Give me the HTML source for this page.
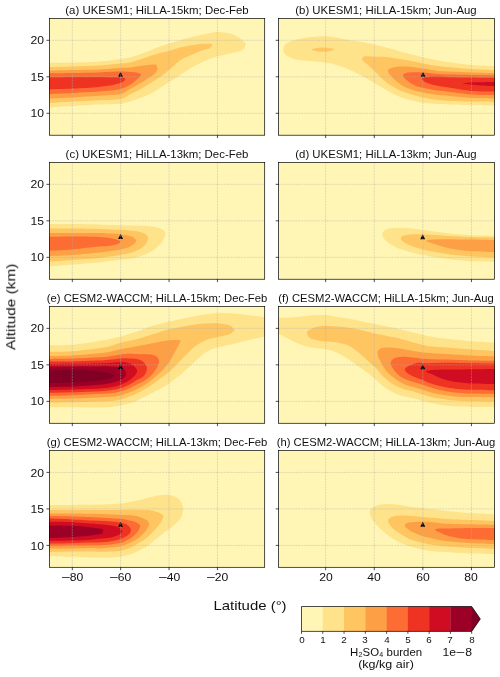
<!DOCTYPE html>
<html><head><meta charset="utf-8"><title>H2SO4 burden</title>
<style>
html,body{margin:0;padding:0;background:#fff;}
#fig{position:relative;width:500px;height:677px;overflow:hidden;background:#fff;font-family:"Liberation Sans",sans-serif;color:#111;}
#fig svg{position:absolute;left:0;top:0;}
.t{position:absolute;white-space:nowrap;line-height:1;will-change:transform;}
.sub{font-size:0.62em;position:relative;top:0.2em;margin:0 0.03em;}
.mn{display:inline-block;transform:scaleX(1.3);margin:0 0.9px;}
.yl{left:-89.28px;top:300.15px;width:200px;height:13.5px;text-align:center;transform-origin:50% 50%;transform:rotate(-90deg) scaleX(1.14);}
</style></head><body>
<div id="fig">
<svg width="500" height="677" viewBox="0 0 500 677">
<defs><clipPath id="ca"><rect x="49.35" y="18.4" width="215.35" height="116.79999999999998"/></clipPath><clipPath id="cb"><rect x="278.6" y="18.4" width="215.84999999999997" height="116.79999999999998"/></clipPath><clipPath id="cc"><rect x="49.35" y="162.43" width="215.35" height="116.80000000000001"/></clipPath><clipPath id="cd"><rect x="278.6" y="162.43" width="215.84999999999997" height="116.80000000000001"/></clipPath><clipPath id="ce"><rect x="49.35" y="306.47" width="215.35" height="116.79999999999995"/></clipPath><clipPath id="cf"><rect x="278.6" y="306.47" width="215.84999999999997" height="116.79999999999995"/></clipPath><clipPath id="cg"><rect x="49.35" y="450.5" width="215.35" height="116.79999999999995"/></clipPath><clipPath id="ch"><rect x="278.6" y="450.5" width="215.84999999999997" height="116.79999999999995"/></clipPath></defs>
<rect x="49.35" y="18.4" width="215.35" height="116.79999999999998" fill="#fff6b6"/>
<g clip-path="url(#ca)">
<path d="M40.00,63.00C40.80,59.03 44.95,63.05 49.00,63.00C54.50,62.93 64.67,62.83 73.00,62.60C81.33,62.37 91.10,62.20 99.00,61.60C106.90,61.00 115.23,59.70 120.40,59.00C124.74,58.41 126.73,58.18 130.00,57.40C133.27,56.62 136.67,55.47 140.00,54.30C143.33,53.13 146.67,51.68 150.00,50.40C153.33,49.12 156.83,47.73 160.00,46.60C163.17,45.47 165.67,44.63 169.00,43.60C172.33,42.57 176.50,41.40 180.00,40.40C183.50,39.40 186.67,38.50 190.00,37.60C193.33,36.70 196.67,35.77 200.00,35.00C203.33,34.23 207.10,33.50 210.00,33.00C212.90,32.50 214.73,32.05 217.40,32.00C220.07,31.95 222.97,32.13 226.00,32.70C229.03,33.27 232.80,34.12 235.60,35.40C238.40,36.68 241.10,39.00 242.80,40.40C244.38,41.70 245.80,43.80 245.80,43.80C245.80,43.80 244.40,48.20 244.40,48.20C244.40,48.20 242.44,50.18 240.40,51.00C238.33,51.83 235.80,52.31 232.00,53.20C228.17,54.10 221.40,55.37 217.40,56.40C213.40,57.43 210.97,58.20 208.00,59.40C205.03,60.60 202.60,62.07 199.60,63.60C196.60,65.13 193.27,66.63 190.00,68.60C186.73,70.57 183.50,73.17 180.00,75.40C176.50,77.63 172.33,79.90 169.00,82.00C165.67,84.10 163.17,86.00 160.00,88.00C156.83,90.00 153.33,92.33 150.00,94.00C146.67,95.67 143.33,96.75 140.00,98.00C136.67,99.25 133.27,100.53 130.00,101.50C126.73,102.47 124.82,103.36 120.40,103.80C115.23,104.32 106.90,104.23 99.00,104.60C91.10,104.97 81.33,105.53 73.00,106.00C64.67,106.47 54.50,107.17 49.00,107.40C44.95,107.57 40.80,111.37 40.00,107.40C38.50,100.00 38.50,70.40 40.00,63.00Z" fill="#fee38b"/>
<path d="M40.00,67.00C40.98,63.07 44.95,67.07 49.00,67.00C54.50,66.90 64.67,66.63 73.00,66.40C81.33,66.17 91.10,66.07 99.00,65.60C106.90,65.13 115.23,64.12 120.40,63.60C124.73,63.17 126.73,63.20 130.00,62.50C133.27,61.80 136.67,60.48 140.00,59.40C143.33,58.32 146.67,57.07 150.00,56.00C153.33,54.93 156.83,53.83 160.00,53.00C163.17,52.17 165.67,51.90 169.00,51.00C172.33,50.10 176.50,48.50 180.00,47.60C183.50,46.70 186.73,46.20 190.00,45.60C193.27,45.00 196.60,44.32 199.60,44.00C202.60,43.68 205.80,43.68 208.00,43.70C210.17,43.72 212.80,44.10 212.80,44.10C212.80,44.10 209.80,48.60 209.80,48.60C209.80,48.60 204.50,49.60 202.00,50.40C199.50,51.20 196.80,52.53 194.80,53.40C192.80,54.27 192.15,54.58 190.00,55.60C187.53,56.77 183.50,58.00 180.00,60.40C176.50,62.80 172.33,67.23 169.00,70.00C165.67,72.77 163.17,74.75 160.00,77.00C156.83,79.25 153.33,81.42 150.00,83.50C146.67,85.58 143.33,87.67 140.00,89.50C136.67,91.33 133.27,92.92 130.00,94.50C126.73,96.08 125.09,98.14 120.40,99.00C115.23,99.95 106.90,99.77 99.00,100.20C91.10,100.63 81.33,101.13 73.00,101.60C64.67,102.07 54.50,102.77 49.00,103.00C44.95,103.17 40.98,106.93 40.00,103.00C38.50,97.00 38.50,73.00 40.00,67.00Z" fill="#fec561"/>
<path d="M40.00,70.60C41.25,66.75 44.95,70.67 49.00,70.60C54.50,70.50 64.67,70.20 73.00,70.00C81.33,69.80 91.10,69.73 99.00,69.40C106.90,69.07 115.23,68.32 120.40,68.00C124.72,67.74 126.73,67.83 130.00,67.50C133.27,67.17 137.67,66.32 140.00,66.00C141.79,65.76 142.20,65.81 144.00,65.60C146.00,65.37 149.93,64.78 152.00,64.60C153.97,64.42 156.40,64.50 156.40,64.50C156.40,64.50 157.60,69.20 157.60,69.20C157.60,69.20 156.17,72.37 154.40,74.00C152.63,75.63 149.40,77.42 147.00,79.00C144.60,80.58 142.83,81.83 140.00,83.50C137.17,85.17 133.27,87.25 130.00,89.00C126.73,90.75 125.16,92.96 120.40,94.00C115.23,95.13 106.90,95.23 99.00,95.80C91.10,96.37 81.33,96.97 73.00,97.40C64.67,97.83 54.50,98.23 49.00,98.40C44.95,98.52 41.25,102.25 40.00,98.40C38.50,93.77 38.50,75.23 40.00,70.60Z" fill="#fd9f44"/>
<path d="M40.00,73.40C41.50,69.97 44.95,73.45 49.00,73.40C54.50,73.33 64.67,73.17 73.00,73.00C81.33,72.83 91.10,72.63 99.00,72.40C106.90,72.17 115.23,71.67 120.40,71.60C124.72,71.54 127.40,71.87 130.00,72.00C132.60,72.13 134.27,72.15 136.00,72.40C137.73,72.65 140.40,73.50 140.40,73.50C140.40,73.50 141.00,75.00 141.00,75.00C141.00,75.00 140.27,76.33 139.40,77.20C138.40,78.20 136.57,79.73 135.00,81.00C133.43,82.27 132.43,83.47 130.00,84.80C127.57,86.13 125.01,87.99 120.40,89.00C115.23,90.13 106.90,90.93 99.00,91.60C91.10,92.27 81.33,92.60 73.00,93.00C64.67,93.40 54.50,93.83 49.00,94.00C44.95,94.12 41.50,97.43 40.00,94.00C38.50,90.57 38.50,76.83 40.00,73.40Z" fill="#fc6c33"/>
<path d="M40.00,77.40C41.50,75.40 44.95,77.45 49.00,77.40C54.50,77.33 64.67,77.07 73.00,77.00C81.33,76.93 92.00,76.95 99.00,77.00C106.00,77.05 111.03,77.20 115.00,77.30C118.51,77.39 121.08,77.30 122.80,77.60C124.09,77.83 125.30,79.10 125.30,79.10C125.30,79.10 124.80,80.96 123.60,81.60C121.88,82.52 119.00,83.72 115.00,84.60C110.90,85.50 106.00,86.33 99.00,87.00C92.00,87.67 81.33,88.20 73.00,88.60C64.67,89.00 54.50,89.27 49.00,89.40C44.95,89.50 41.50,91.40 40.00,89.40C38.50,87.40 38.50,79.40 40.00,77.40Z" fill="#ef3323"/>
<path d="M120.50,71.90L122.95,76.85H118.05Z" fill="#000"/>
<path d="M72.30,135.2V18.4M120.68,135.2V18.4M169.06,135.2V18.4M217.44,135.2V18.4M49.35,113.30H264.7M49.35,76.80H264.7M49.35,40.30H264.7" stroke="#b0b0b0" stroke-opacity="0.8" stroke-width="0.55" stroke-dasharray="1.97 0.85" fill="none"/>
</g>
<rect x="49.35" y="18.4" width="215.35" height="116.79999999999998" fill="none" stroke="#000" stroke-width="0.7"/>
<path d="M72.30,135.2v2.9M120.68,135.2v2.9M169.06,135.2v2.9M217.44,135.2v2.9M49.35,113.30h-2.9M49.35,76.80h-2.9M49.35,40.30h-2.9" stroke="#000" stroke-width="0.7" fill="none"/>
<rect x="278.6" y="18.4" width="215.84999999999997" height="116.79999999999998" fill="#fff6b6"/>
<g clip-path="url(#cb)">
<path d="M505.00,66.00C503.68,61.23 498.95,66.15 494.00,66.00C488.43,65.83 478.93,65.62 471.60,65.00C464.27,64.38 455.60,63.07 450.00,62.30C444.58,61.56 442.50,61.25 438.00,60.40C433.50,59.55 428.33,58.43 423.00,57.20C417.67,55.97 411.50,54.43 406.00,53.00C400.50,51.57 395.27,50.00 390.00,48.60C384.73,47.20 379.07,45.70 374.40,44.60C369.73,43.50 366.23,42.77 362.00,42.00C357.77,41.23 352.83,40.63 349.00,40.00C345.17,39.37 341.67,38.70 339.00,38.20C336.33,37.70 335.20,37.33 333.00,37.00C330.80,36.67 328.40,36.30 325.80,36.20C323.20,36.10 320.60,36.17 317.40,36.40C314.20,36.63 310.00,37.10 306.60,37.60C303.20,38.10 299.80,38.70 297.00,39.40C294.20,40.10 291.80,40.90 289.80,41.80C287.80,42.70 286.10,43.50 285.00,44.80C283.90,46.10 283.30,48.20 283.20,49.60C283.10,51.00 283.50,52.00 284.40,53.20C285.30,54.40 286.90,55.80 288.60,56.80C290.30,57.80 292.20,58.57 294.60,59.20C297.00,59.83 299.60,60.20 303.00,60.60C306.40,61.00 311.20,61.23 315.00,61.60C318.80,61.97 322.80,62.40 325.80,62.80C328.80,63.20 330.80,63.50 333.00,64.00C335.20,64.50 336.33,64.88 339.00,65.80C341.67,66.72 345.17,67.80 349.00,69.50C352.83,71.20 357.77,73.75 362.00,76.00C366.23,78.25 370.40,80.67 374.40,83.00C378.40,85.33 382.07,87.83 386.00,90.00C389.93,92.17 394.00,94.33 398.00,96.00C402.00,97.67 405.83,98.87 410.00,100.00C414.17,101.13 418.33,102.13 423.00,102.80C427.67,103.47 433.50,103.73 438.00,104.00C442.50,104.27 444.60,104.24 450.00,104.40C455.60,104.57 464.27,104.80 471.60,105.00C478.93,105.20 488.43,105.50 494.00,105.60C498.95,105.69 503.68,110.37 505.00,105.60C506.83,99.00 506.83,72.60 505.00,66.00Z" fill="#fee38b"/>
<path d="M310.80,49.60C310.80,49.60 314.10,48.57 316.00,48.20C317.90,47.83 320.03,47.43 322.20,47.40C324.37,47.37 326.83,47.67 329.00,48.00C331.17,48.33 335.20,49.40 335.20,49.40C335.20,49.40 330.97,50.80 329.00,51.20C327.03,51.60 325.48,51.80 323.40,51.80C321.32,51.80 318.60,51.57 316.50,51.20C314.40,50.83 310.80,49.60 310.80,49.60Z" fill="#fec561"/>
<path d="M505.00,70.00C503.39,65.32 498.95,70.15 494.00,70.00C488.43,69.83 478.93,69.47 471.60,69.00C464.27,68.53 455.60,67.70 450.00,67.20C444.59,66.72 442.50,66.63 438.00,66.00C433.50,65.37 428.33,64.40 423.00,63.40C417.67,62.40 411.50,61.00 406.00,60.00C400.50,59.00 395.27,57.98 390.00,57.40C384.73,56.82 378.73,56.70 374.40,56.50C370.07,56.30 364.00,56.20 364.00,56.20C364.00,56.20 361.60,59.40 361.60,59.40C361.60,59.40 365.07,62.27 367.20,64.20C369.33,66.13 371.27,68.03 374.40,71.00C377.53,73.97 382.07,78.93 386.00,82.00C389.93,85.07 394.00,87.40 398.00,89.40C402.00,91.40 405.83,92.67 410.00,94.00C414.17,95.33 418.33,96.40 423.00,97.40C427.67,98.40 433.50,99.40 438.00,100.00C442.50,100.60 444.59,100.74 450.00,101.00C455.60,101.27 464.27,101.43 471.60,101.60C478.93,101.77 488.43,101.93 494.00,102.00C498.95,102.06 503.39,106.68 505.00,102.00C506.83,96.67 506.83,75.33 505.00,70.00Z" fill="#fec561"/>
<path d="M505.00,73.00C503.17,68.77 498.95,73.09 494.00,73.00C488.43,72.90 478.93,72.65 471.60,72.40C464.27,72.15 455.60,71.73 450.00,71.50C444.60,71.28 442.50,71.48 438.00,71.00C433.50,70.52 428.33,69.33 423.00,68.60C417.67,67.87 411.00,66.77 406.00,66.60C401.00,66.43 396.00,66.87 393.00,67.60C390.36,68.25 388.17,69.43 388.00,71.00C387.83,72.57 390.00,74.83 392.00,77.00C394.00,79.17 397.00,82.00 400.00,84.00C403.00,86.00 406.17,87.57 410.00,89.00C413.83,90.43 418.33,91.60 423.00,92.60C427.67,93.60 433.50,94.43 438.00,95.00C442.50,95.57 444.60,95.52 450.00,96.00C455.60,96.50 464.27,97.60 471.60,98.00C478.93,98.40 488.43,98.33 494.00,98.40C498.95,98.46 503.17,102.63 505.00,98.40C506.83,94.17 506.83,77.23 505.00,73.00Z" fill="#fd9f44"/>
<path d="M505.00,75.40C503.17,72.13 498.95,75.46 494.00,75.40C488.43,75.33 478.93,75.13 471.60,75.00C464.27,74.87 455.60,74.77 450.00,74.60C444.60,74.44 442.50,74.35 438.00,74.00C433.50,73.65 428.00,72.73 423.00,72.50C418.00,72.27 411.33,72.15 408.00,72.60C405.49,72.94 403.33,74.07 403.00,75.20C402.67,76.33 404.27,77.85 406.00,79.40C407.83,81.03 411.17,83.60 414.00,85.00C416.83,86.40 419.00,86.87 423.00,87.80C427.00,88.73 433.50,89.90 438.00,90.60C442.50,91.30 444.60,91.39 450.00,92.00C455.60,92.63 464.27,93.90 471.60,94.40C478.93,94.90 488.43,94.90 494.00,95.00C498.95,95.09 503.17,98.27 505.00,95.00C506.83,91.73 506.83,78.67 505.00,75.40Z" fill="#fc6c33"/>
<path d="M505.00,78.00C503.17,75.77 498.95,78.06 494.00,78.00C488.43,77.93 478.93,77.73 471.60,77.60C464.27,77.47 455.60,77.37 450.00,77.20C444.60,77.04 441.83,76.63 438.00,76.60C434.17,76.57 429.70,76.68 427.00,77.00C424.58,77.28 422.13,77.67 421.80,78.50C421.47,79.33 423.12,81.00 425.00,82.00C427.03,83.08 429.84,84.04 434.00,85.00C438.17,85.97 443.73,86.80 450.00,87.80C456.27,88.80 464.27,90.40 471.60,91.00C478.93,91.60 488.43,91.33 494.00,91.40C498.95,91.46 503.17,93.63 505.00,91.40C506.83,89.17 506.83,80.23 505.00,78.00Z" fill="#ef3323"/>
<path d="M505.00,82.00C503.17,81.33 498.17,81.97 494.00,82.00C489.83,82.03 483.73,82.13 480.00,82.20C476.27,82.27 474.43,82.20 471.60,82.40C468.77,82.60 463.00,83.03 463.00,83.40C463.00,83.77 468.77,84.27 471.60,84.60C474.43,84.93 476.27,85.17 480.00,85.40C483.73,85.63 489.83,85.90 494.00,86.00C498.17,86.10 503.17,86.67 505.00,86.00C506.69,85.38 506.69,82.62 505.00,82.00Z" fill="#cf0c21"/>
<path d="M423.00,71.90L425.45,76.85H420.55Z" fill="#000"/>
<path d="M325.65,135.2V18.4M374.25,135.2V18.4M422.85,135.2V18.4M471.45,135.2V18.4M278.6,113.30H494.45M278.6,76.80H494.45M278.6,40.30H494.45" stroke="#b0b0b0" stroke-opacity="0.8" stroke-width="0.55" stroke-dasharray="1.97 0.85" fill="none"/>
</g>
<rect x="278.6" y="18.4" width="215.84999999999997" height="116.79999999999998" fill="none" stroke="#000" stroke-width="0.7"/>
<path d="M325.65,135.2v2.9M374.25,135.2v2.9M422.85,135.2v2.9M471.45,135.2v2.9M278.6,113.30h-2.9M278.6,76.80h-2.9M278.6,40.30h-2.9" stroke="#000" stroke-width="0.7" fill="none"/>
<rect x="49.35" y="162.43" width="215.35" height="116.80000000000001" fill="#fff6b6"/>
<g clip-path="url(#cc)">
<path d="M40.00,224.00C40.84,220.04 44.95,224.00 49.00,224.00C54.43,224.00 64.27,223.93 72.60,224.00C80.93,224.07 92.77,224.23 99.00,224.40C103.96,224.53 106.40,224.87 110.00,225.00C113.60,225.13 117.27,225.10 120.60,225.20C123.93,225.30 125.77,225.47 130.00,225.60C134.23,225.73 141.67,225.73 146.00,226.00C150.33,226.27 153.33,226.67 156.00,227.20C158.67,227.73 160.50,228.40 162.00,229.20C163.50,230.00 164.45,231.12 165.00,232.00C165.55,232.88 165.47,233.42 165.30,234.50C165.13,235.58 164.82,236.92 164.00,238.50C163.18,240.08 162.00,242.18 160.40,244.00C158.80,245.82 156.80,247.73 154.40,249.40C152.00,251.07 149.40,252.53 146.00,254.00C142.60,255.47 138.23,257.23 134.00,258.20C129.77,259.17 124.60,259.33 120.60,259.80C116.60,260.27 113.60,260.57 110.00,261.00C106.40,261.43 103.97,261.92 99.00,262.40C92.77,263.00 80.93,263.90 72.60,264.60C64.27,265.30 54.43,266.27 49.00,266.60C44.96,266.85 40.84,270.56 40.00,266.60C38.50,259.50 38.50,231.10 40.00,224.00Z" fill="#fee38b"/>
<path d="M40.00,228.60C41.07,224.69 44.95,228.60 49.00,228.60C54.43,228.60 64.27,228.53 72.60,228.60C80.93,228.67 92.77,228.87 99.00,229.00C103.95,229.11 106.40,229.27 110.00,229.40C113.60,229.53 117.27,229.60 120.60,229.80C123.93,230.00 126.77,230.23 130.00,230.60C133.23,230.97 137.33,231.33 140.00,232.00C142.67,232.67 144.67,233.60 146.00,234.60C147.33,235.60 147.83,236.77 148.00,238.00C148.17,239.23 147.83,240.50 147.00,242.00C146.17,243.50 144.83,245.50 143.00,247.00C141.17,248.50 138.50,249.90 136.00,251.00C133.50,252.10 130.57,252.93 128.00,253.60C125.43,254.27 123.60,254.50 120.60,255.00C117.60,255.50 113.60,256.10 110.00,256.60C106.40,257.10 103.97,257.55 99.00,258.00C92.77,258.57 80.93,259.40 72.60,260.00C64.27,260.60 54.43,261.33 49.00,261.60C44.95,261.80 41.07,265.51 40.00,261.60C38.50,256.10 38.50,234.10 40.00,228.60Z" fill="#fec561"/>
<path d="M40.00,233.00C41.48,229.23 44.95,233.00 49.00,233.00C54.43,233.00 64.27,233.00 72.60,233.00C80.93,233.00 92.77,232.90 99.00,233.00C103.96,233.08 106.40,233.37 110.00,233.60C113.60,233.83 117.60,234.07 120.60,234.40C123.60,234.73 125.77,235.00 128.00,235.60C130.23,236.20 132.67,237.13 134.00,238.00C135.30,238.84 136.00,239.80 136.00,240.80C136.00,241.80 135.31,242.92 134.00,244.00C132.67,245.10 130.23,246.50 128.00,247.40C125.77,248.30 123.60,248.80 120.60,249.40C117.60,250.00 113.60,250.47 110.00,251.00C106.40,251.53 103.97,252.07 99.00,252.60C92.77,253.27 80.93,254.43 72.60,255.00C64.27,255.57 54.43,255.83 49.00,256.00C44.95,256.12 41.48,259.77 40.00,256.00C38.50,252.17 38.50,236.83 40.00,233.00Z" fill="#fd9f44"/>
<path d="M40.00,237.00C41.50,234.73 44.95,237.05 49.00,237.00C54.43,236.93 64.27,236.60 72.60,236.60C80.93,236.60 92.77,236.77 99.00,237.00C103.97,237.19 106.97,237.53 110.00,238.00C113.03,238.47 115.50,239.28 117.20,239.80C118.61,240.23 120.20,241.10 120.20,241.10C120.20,241.10 119.88,243.21 118.60,243.80C116.90,244.58 113.27,245.33 110.00,245.80C106.73,246.27 103.94,246.12 99.00,246.60C92.77,247.20 80.93,248.73 72.60,249.40C64.27,250.07 54.43,250.40 49.00,250.60C44.95,250.75 41.50,252.87 40.00,250.60C38.50,248.33 38.50,239.27 40.00,237.00Z" fill="#fc6c33"/>
<path d="M120.60,234.10L123.05,239.05H118.15Z" fill="#000"/>
<path d="M72.30,279.23V162.43M120.68,279.23V162.43M169.06,279.23V162.43M217.44,279.23V162.43M49.35,257.33H264.7M49.35,220.83H264.7M49.35,184.33H264.7" stroke="#b0b0b0" stroke-opacity="0.8" stroke-width="0.55" stroke-dasharray="1.97 0.85" fill="none"/>
</g>
<rect x="49.35" y="162.43" width="215.35" height="116.80000000000001" fill="none" stroke="#000" stroke-width="0.7"/>
<path d="M72.30,279.23v2.9M120.68,279.23v2.9M169.06,279.23v2.9M217.44,279.23v2.9M49.35,257.33h-2.9M49.35,220.83h-2.9M49.35,184.33h-2.9" stroke="#000" stroke-width="0.7" fill="none"/>
<rect x="278.6" y="162.43" width="215.84999999999997" height="116.80000000000001" fill="#fff6b6"/>
<g clip-path="url(#cd)">
<path d="M505.00,235.70C503.17,231.33 498.95,235.77 494.00,235.70C488.42,235.62 477.17,235.38 471.50,235.20C466.32,235.03 463.92,234.93 460.00,234.60C456.08,234.27 452.00,233.68 448.00,233.20C444.00,232.72 440.22,232.23 436.00,231.70C431.78,231.17 427.23,230.57 422.70,230.00C418.17,229.43 413.25,228.63 408.80,228.30C404.35,227.97 399.47,227.92 396.00,228.00C392.53,228.08 390.00,228.30 388.00,228.80C386.01,229.30 384.93,230.07 384.00,231.00C383.07,231.93 382.40,233.17 382.40,234.40C382.40,235.63 383.07,237.07 384.00,238.40C384.93,239.73 386.00,240.93 388.00,242.40C390.00,243.87 392.53,245.65 396.00,247.20C399.47,248.75 404.35,250.42 408.80,251.70C413.25,252.98 418.17,253.97 422.70,254.90C427.23,255.83 431.78,256.62 436.00,257.30C440.22,257.98 444.00,258.50 448.00,259.00C452.00,259.50 456.08,259.92 460.00,260.30C463.92,260.68 466.31,261.06 471.50,261.30C477.17,261.57 488.42,261.80 494.00,261.90C498.95,261.99 503.17,266.27 505.00,261.90C506.83,257.53 506.83,240.07 505.00,235.70Z" fill="#fee38b"/>
<path d="M505.00,237.60C503.17,234.27 498.95,237.67 494.00,237.60C488.42,237.52 477.17,237.27 471.50,237.10C466.32,236.95 463.92,236.78 460.00,236.60C456.08,236.42 452.00,236.28 448.00,236.00C444.00,235.72 440.22,235.17 436.00,234.90C431.78,234.63 426.97,234.48 422.70,234.40C418.43,234.32 413.65,234.18 410.40,234.40C407.15,234.62 404.80,235.03 403.20,235.70C401.70,236.33 400.80,237.42 400.80,238.40C400.80,239.38 401.76,240.52 403.20,241.60C404.80,242.80 407.15,244.27 410.40,245.60C413.65,246.93 418.43,248.48 422.70,249.60C426.97,250.72 431.78,251.53 436.00,252.30C440.22,253.07 444.00,253.67 448.00,254.20C452.00,254.73 456.08,255.12 460.00,255.50C463.92,255.88 466.32,256.18 471.50,256.50C477.17,256.85 488.42,257.42 494.00,257.60C498.95,257.76 503.17,260.93 505.00,257.60C506.83,254.27 506.83,240.93 505.00,237.60Z" fill="#fec561"/>
<path d="M505.00,240.00C503.17,238.00 498.95,240.07 494.00,240.00C488.42,239.92 477.17,239.60 471.50,239.50C466.33,239.41 464.58,239.45 460.00,239.40C455.42,239.35 448.53,239.18 444.00,239.20C439.47,239.22 435.75,239.23 432.80,239.50C429.85,239.77 426.30,240.13 426.30,240.80C426.30,241.47 429.85,242.48 432.80,243.50C435.75,244.52 440.80,246.02 444.00,246.90C447.20,247.78 449.33,248.28 452.00,248.80C454.67,249.32 456.75,249.60 460.00,250.00C463.25,250.40 466.31,250.89 471.50,251.20C477.17,251.53 488.42,251.87 494.00,252.00C498.95,252.12 503.17,254.00 505.00,252.00C506.83,250.00 506.83,242.00 505.00,240.00Z" fill="#fd9f44"/>
<path d="M422.70,234.30L425.15,239.25H420.25Z" fill="#000"/>
<path d="M325.65,279.23V162.43M374.25,279.23V162.43M422.85,279.23V162.43M471.45,279.23V162.43M278.6,257.33H494.45M278.6,220.83H494.45M278.6,184.33H494.45" stroke="#b0b0b0" stroke-opacity="0.8" stroke-width="0.55" stroke-dasharray="1.97 0.85" fill="none"/>
</g>
<rect x="278.6" y="162.43" width="215.84999999999997" height="116.80000000000001" fill="none" stroke="#000" stroke-width="0.7"/>
<path d="M325.65,279.23v2.9M374.25,279.23v2.9M422.85,279.23v2.9M471.45,279.23v2.9M278.6,257.33h-2.9M278.6,220.83h-2.9M278.6,184.33h-2.9" stroke="#000" stroke-width="0.7" fill="none"/>
<rect x="49.35" y="306.47" width="215.35" height="116.79999999999995" fill="#fff6b6"/>
<g clip-path="url(#ce)">
<path d="M40.00,345.20C40.58,341.19 44.95,345.25 49.00,345.20C54.40,345.13 64.07,345.50 72.40,344.80C80.73,344.10 92.90,341.93 99.00,341.00C103.52,340.31 105.40,339.93 109.00,339.20C112.60,338.47 115.93,337.87 120.60,336.60C125.27,335.33 132.27,333.20 137.00,331.60C141.73,330.00 143.67,328.67 149.00,327.00C154.33,325.33 163.00,323.07 169.00,321.60C175.00,320.13 179.67,319.30 185.00,318.20C190.33,317.10 195.58,315.83 201.00,315.00C206.42,314.17 212.17,313.43 217.50,313.20C222.83,312.97 227.75,313.27 233.00,313.60C238.25,313.93 243.80,314.58 249.00,315.20C254.20,315.82 259.87,316.67 264.20,317.30C268.53,317.93 273.20,316.05 275.00,319.00C276.80,321.95 276.80,332.03 275.00,335.00C273.20,337.97 268.53,335.97 264.20,336.80C259.87,337.63 254.20,338.80 249.00,340.00C243.80,341.20 238.25,342.75 233.00,344.00C227.75,345.25 221.50,346.42 217.50,347.50C213.58,348.56 211.75,349.08 209.00,350.50C206.25,351.92 203.50,354.02 201.00,356.00C198.50,357.98 196.17,360.40 194.00,362.40C191.83,364.40 190.00,366.17 188.00,368.00C186.00,369.83 184.00,371.70 182.00,373.40C180.00,375.10 178.17,376.53 176.00,378.20C173.83,379.87 171.40,381.77 169.00,383.40C166.60,385.03 163.93,386.65 161.60,388.00C159.27,389.35 157.43,390.25 155.00,391.50C152.57,392.75 149.93,394.02 147.00,395.50C144.07,396.98 140.40,399.05 137.40,400.40C134.40,401.75 131.80,402.73 129.00,403.60C126.20,404.47 123.60,405.03 120.60,405.60C117.60,406.17 114.60,406.67 111.00,407.00C107.40,407.33 104.41,407.57 99.00,407.60C92.57,407.63 80.73,407.27 72.40,407.20C64.07,407.13 54.40,407.20 49.00,407.20C44.95,407.20 40.58,411.21 40.00,407.20C38.50,396.87 38.50,355.53 40.00,345.20Z" fill="#fee38b"/>
<path d="M40.00,351.80C40.71,347.81 44.95,351.87 49.00,351.80C54.40,351.70 64.07,351.80 72.40,351.20C80.73,350.60 92.90,348.98 99.00,348.20C103.53,347.62 105.40,347.40 109.00,346.50C112.60,345.60 115.93,344.05 120.60,342.80C125.27,341.55 132.27,340.23 137.00,339.00C141.73,337.77 143.67,336.97 149.00,335.40C154.33,333.83 163.00,331.13 169.00,329.60C175.00,328.07 179.67,327.17 185.00,326.20C190.33,325.23 195.58,324.30 201.00,323.80C206.42,323.30 213.23,323.07 217.50,323.20C221.64,323.33 224.18,323.98 226.60,324.60C229.02,325.22 230.60,325.98 232.00,326.90C233.40,327.82 235.00,330.10 235.00,330.10C235.00,330.10 232.67,332.50 231.00,333.40C229.33,334.30 227.25,334.87 225.00,335.50C222.75,336.13 220.17,336.62 217.50,337.20C214.83,337.78 211.75,338.12 209.00,339.00C206.25,339.88 203.67,341.00 201.00,342.50C198.33,344.00 195.37,346.05 193.00,348.00C190.63,349.95 188.83,352.17 186.80,354.20C184.77,356.23 182.60,358.40 180.80,360.20C179.00,362.00 177.97,363.03 176.00,365.00C174.03,366.97 171.40,369.90 169.00,372.00C166.60,374.10 164.03,375.77 161.60,377.60C159.17,379.43 156.83,381.27 154.40,383.00C151.97,384.73 149.83,386.30 147.00,388.00C144.17,389.70 140.40,391.73 137.40,393.20C134.40,394.67 131.80,395.77 129.00,396.80C126.20,397.83 123.60,398.70 120.60,399.40C117.60,400.10 114.60,400.63 111.00,401.00C107.40,401.37 104.40,401.43 99.00,401.60C92.57,401.80 80.73,402.07 72.40,402.20C64.07,402.33 54.40,402.37 49.00,402.40C44.95,402.42 40.71,406.39 40.00,402.40C38.50,393.97 38.50,360.23 40.00,351.80Z" fill="#fec561"/>
<path d="M40.00,356.00C40.83,352.04 44.95,356.07 49.00,356.00C54.40,355.90 64.07,355.87 72.40,355.40C80.73,354.93 92.90,353.77 99.00,353.20C103.51,352.78 105.40,352.67 109.00,352.00C112.60,351.33 115.93,350.17 120.60,349.20C125.27,348.23 132.27,347.07 137.00,346.20C141.73,345.33 145.00,344.77 149.00,344.00C153.00,343.23 157.00,342.27 161.00,341.60C165.00,340.93 169.67,340.20 173.00,340.00C176.33,339.80 181.00,340.40 181.00,340.40C181.00,340.40 179.43,343.40 178.60,345.00C177.77,346.60 176.93,348.27 176.00,350.00C175.07,351.73 174.17,353.32 173.00,355.40C171.83,357.48 170.50,360.30 169.00,362.50C167.50,364.70 165.83,366.58 164.00,368.60C162.17,370.62 160.00,372.77 158.00,374.60C156.00,376.43 153.83,378.10 152.00,379.60C150.17,381.10 149.42,382.04 147.00,383.60C144.57,385.17 140.40,387.50 137.40,389.00C134.40,390.50 131.80,391.53 129.00,392.60C126.20,393.67 123.60,394.70 120.60,395.40C117.60,396.10 114.60,396.47 111.00,396.80C107.40,397.13 104.40,397.18 99.00,397.40C92.57,397.67 80.73,398.17 72.40,398.40C64.07,398.63 54.40,398.73 49.00,398.80C44.95,398.85 40.83,402.76 40.00,398.80C38.50,391.67 38.50,363.13 40.00,356.00Z" fill="#fd9f44"/>
<path d="M40.00,359.00C40.96,355.07 44.95,359.05 49.00,359.00C54.40,358.93 64.07,358.90 72.40,358.60C80.73,358.30 92.90,357.57 99.00,357.20C103.51,356.93 105.40,356.87 109.00,356.40C112.60,355.93 117.10,354.83 120.60,354.40C124.10,353.97 126.77,353.83 130.00,353.80C133.23,353.77 137.13,354.13 140.00,354.20C142.87,354.27 145.00,354.07 147.20,354.20C149.40,354.33 151.50,354.50 153.20,355.00C154.90,355.50 156.43,356.23 157.40,357.20C158.37,358.17 158.90,359.40 159.00,360.80C159.10,362.20 158.77,363.80 158.00,365.60C157.23,367.40 155.80,369.70 154.40,371.60C153.00,373.50 151.40,375.40 149.60,377.00C147.80,378.60 145.63,380.00 143.60,381.20C141.57,382.40 139.83,383.00 137.40,384.20C134.97,385.40 131.80,387.20 129.00,388.40C126.20,389.60 123.60,390.60 120.60,391.40C117.60,392.20 114.60,392.80 111.00,393.20C107.40,393.60 104.40,393.52 99.00,393.80C92.57,394.13 80.73,394.87 72.40,395.20C64.07,395.53 54.40,395.70 49.00,395.80C44.95,395.87 40.96,399.73 40.00,395.80C38.50,389.67 38.50,365.13 40.00,359.00Z" fill="#fc6c33"/>
<path d="M40.00,361.60C41.12,357.71 44.95,361.62 49.00,361.60C54.40,361.57 64.07,361.57 72.40,361.40C80.73,361.23 92.90,360.87 99.00,360.60C103.51,360.40 105.40,360.17 109.00,359.80C112.60,359.43 117.43,358.63 120.60,358.40C123.77,358.17 125.60,358.33 128.00,358.40C130.40,358.47 132.67,358.38 135.00,358.80C137.33,359.22 140.12,359.73 142.00,360.90C143.88,362.07 145.53,364.15 146.30,365.80C147.07,367.45 146.98,369.13 146.60,370.80C146.22,372.47 144.93,374.60 144.00,375.80C143.07,377.00 142.10,377.33 141.00,378.00C139.90,378.67 138.98,378.91 137.40,379.80C135.40,380.93 131.80,383.40 129.00,384.80C126.20,386.20 123.60,387.30 120.60,388.20C117.60,389.10 114.60,389.70 111.00,390.20C107.40,390.70 104.41,390.92 99.00,391.20C92.57,391.53 80.73,391.93 72.40,392.20C64.07,392.47 54.40,392.70 49.00,392.80C44.95,392.87 41.12,396.69 40.00,392.80C38.50,387.60 38.50,366.80 40.00,361.60Z" fill="#ef3323"/>
<path d="M40.00,364.00C41.32,360.17 44.95,364.02 49.00,364.00C54.40,363.97 64.07,363.90 72.40,363.80C80.73,363.70 92.90,363.53 99.00,363.40C103.50,363.30 105.40,363.23 109.00,363.00C112.60,362.77 117.27,361.97 120.60,362.00C123.93,362.03 126.77,362.53 129.00,363.20C131.23,363.87 132.67,364.87 134.00,366.00C135.33,367.13 136.58,368.83 137.00,370.00C137.42,371.17 136.83,372.13 136.50,373.00C136.17,373.87 135.84,374.35 135.00,375.20C133.75,376.47 131.40,379.00 129.00,380.60C126.60,382.20 123.60,383.70 120.60,384.80C117.60,385.90 114.60,386.60 111.00,387.20C107.40,387.80 104.42,388.09 99.00,388.40C92.57,388.77 80.73,389.13 72.40,389.40C64.07,389.67 54.40,389.90 49.00,390.00C44.95,390.07 41.32,393.83 40.00,390.00C38.50,385.67 38.50,368.33 40.00,364.00Z" fill="#cf0c21"/>
<path d="M40.00,366.80C41.50,363.40 44.95,366.85 49.00,366.80C54.40,366.73 64.07,366.43 72.40,366.40C80.73,366.37 92.90,366.60 99.00,366.60C103.50,366.60 105.40,366.25 109.00,366.40C112.60,366.55 117.93,366.82 120.60,367.50C122.92,368.09 124.07,369.33 125.00,370.50C125.93,371.67 126.37,373.33 126.20,374.50C126.03,375.67 124.93,376.58 124.00,377.50C123.07,378.42 122.35,379.26 120.60,380.00C118.43,380.92 114.60,382.20 111.00,383.00C107.40,383.80 104.44,384.29 99.00,384.80C92.57,385.40 80.73,386.20 72.40,386.60C64.07,387.00 54.40,387.10 49.00,387.20C44.95,387.27 41.50,390.60 40.00,387.20C38.50,383.80 38.50,370.20 40.00,366.80Z" fill="#9d0026"/>
<path d="M40.00,370.40C41.50,368.27 44.95,370.47 49.00,370.40C54.40,370.30 65.57,369.77 72.40,369.80C79.23,369.83 85.57,370.30 90.00,370.60C94.07,370.88 95.83,371.17 99.00,371.60C102.17,372.03 106.40,372.50 109.00,373.20C111.60,373.90 114.60,374.93 114.60,375.80C114.60,376.67 111.60,377.60 109.00,378.40C106.40,379.20 102.17,380.07 99.00,380.60C95.83,381.13 94.06,381.29 90.00,381.60C85.57,381.93 79.23,382.33 72.40,382.60C65.57,382.87 54.40,383.10 49.00,383.20C44.95,383.27 41.50,385.33 40.00,383.20C38.50,381.07 38.50,372.53 40.00,370.40Z" fill="#800026"/>
<path d="M120.60,364.00L123.05,368.95H118.15Z" fill="#000"/>
<path d="M72.30,423.27V306.47M120.68,423.27V306.47M169.06,423.27V306.47M217.44,423.27V306.47M49.35,401.37H264.7M49.35,364.87H264.7M49.35,328.37H264.7" stroke="#b0b0b0" stroke-opacity="0.8" stroke-width="0.55" stroke-dasharray="1.97 0.85" fill="none"/>
</g>
<rect x="49.35" y="306.47" width="215.35" height="116.79999999999995" fill="none" stroke="#000" stroke-width="0.7"/>
<path d="M72.30,423.27v2.9M120.68,423.27v2.9M169.06,423.27v2.9M217.44,423.27v2.9M49.35,401.37h-2.9M49.35,364.87h-2.9M49.35,328.37h-2.9" stroke="#000" stroke-width="0.7" fill="none"/>
<rect x="278.6" y="306.47" width="215.84999999999997" height="116.79999999999995" fill="#fff6b6"/>
<g clip-path="url(#cf)">
<path d="M505.00,342.50C504.20,337.71 499.06,342.69 494.20,342.50C488.62,342.28 479.37,341.82 471.50,341.20C463.63,340.58 454.08,339.63 447.00,338.80C439.92,337.97 433.05,336.88 429.00,336.20C426.13,335.72 424.70,335.17 422.70,334.70C420.70,334.23 419.56,334.02 417.00,333.40C414.05,332.68 409.00,331.37 405.00,330.40C401.00,329.43 395.67,328.20 393.00,327.60C391.21,327.20 390.80,327.16 389.00,326.80C387.00,326.40 383.43,325.67 381.00,325.20C378.57,324.73 377.07,324.53 374.40,324.00C371.73,323.47 368.57,322.73 365.00,322.00C361.43,321.27 357.00,320.33 353.00,319.60C349.00,318.87 345.00,318.27 341.00,317.60C337.00,316.93 331.53,316.03 329.00,315.60C327.56,315.35 327.26,315.06 325.80,315.00C323.47,314.90 318.80,314.80 315.00,315.00C311.20,315.20 307.00,315.77 303.00,316.20C299.00,316.63 294.90,317.30 291.00,317.60C287.10,317.90 283.10,317.90 279.60,318.00C276.10,318.10 271.60,316.20 270.00,318.20C268.40,320.20 268.40,327.33 270.00,330.00C271.60,332.67 276.90,332.90 279.60,334.20C282.30,335.50 283.90,336.60 286.20,337.80C288.50,339.00 291.00,340.30 293.40,341.40C295.80,342.50 298.00,343.47 300.60,344.40C303.20,345.33 305.93,346.30 309.00,347.00C312.07,347.70 316.20,348.23 319.00,348.60C321.80,348.97 323.40,348.77 325.80,349.20C328.20,349.63 330.93,350.30 333.40,351.20C335.87,352.10 338.00,353.17 340.60,354.60C343.20,356.03 346.20,358.00 349.00,359.80C351.80,361.60 354.40,363.27 357.40,365.40C360.40,367.53 364.17,370.43 367.00,372.60C369.83,374.77 372.07,376.43 374.40,378.40C376.73,380.37 378.70,382.50 381.00,384.40C383.30,386.30 385.80,388.28 388.20,389.80C390.60,391.32 393.20,392.50 395.40,393.50C397.60,394.50 399.30,395.18 401.40,395.80C403.50,396.42 405.73,396.70 408.00,397.20C410.27,397.70 412.55,398.17 415.00,398.80C417.45,399.43 420.03,400.32 422.70,401.00C425.37,401.68 428.28,402.32 431.00,402.90C433.72,403.48 436.33,404.02 439.00,404.50C441.67,404.98 443.80,405.45 447.00,405.80C450.20,406.15 454.12,406.42 458.20,406.60C462.28,406.78 465.51,406.85 471.50,406.90C477.50,406.95 488.62,406.90 494.20,406.90C499.06,406.90 504.20,411.69 505.00,406.90C506.80,396.17 506.80,353.23 505.00,342.50Z" fill="#fee38b"/>
<path d="M505.00,350.80C503.99,346.05 499.06,350.99 494.20,350.80C488.62,350.58 479.37,350.03 471.50,349.50C463.63,348.97 454.08,348.15 447.00,347.60C439.92,347.05 433.05,346.67 429.00,346.20C426.11,345.87 424.70,345.23 422.70,344.80C420.70,344.37 419.53,344.29 417.00,343.60C414.05,342.80 409.00,341.10 405.00,340.00C401.00,338.90 395.67,337.60 393.00,337.00C391.22,336.60 390.78,336.76 389.00,336.40C387.00,336.00 383.43,335.10 381.00,334.60C378.57,334.10 377.07,334.00 374.40,333.40C371.73,332.80 368.57,331.80 365.00,331.00C361.43,330.20 357.00,329.30 353.00,328.60C349.00,327.90 344.33,327.20 341.00,326.80C337.67,326.40 335.53,326.37 333.00,326.20C330.47,326.03 327.97,325.80 325.80,325.80C323.63,325.80 321.83,325.97 320.00,326.20C318.17,326.43 314.80,327.20 314.80,327.20C314.80,327.20 311.33,328.80 310.00,329.60C308.67,330.40 306.80,332.00 306.80,332.00C306.80,332.00 307.07,334.37 307.60,335.40C308.13,336.43 310.00,338.20 310.00,338.20C310.00,338.20 314.17,339.53 316.00,340.00C317.83,340.47 319.37,340.73 321.00,341.00C322.63,341.27 323.80,341.43 325.80,341.60C327.80,341.77 330.87,341.80 333.00,342.00C335.13,342.20 336.27,342.30 338.60,342.80C340.93,343.30 344.67,344.13 347.00,345.00C349.33,345.87 350.47,346.60 352.60,348.00C354.73,349.40 357.40,351.40 359.80,353.40C362.20,355.40 364.57,357.82 367.00,360.00C369.43,362.18 372.07,364.13 374.40,366.50C376.73,368.87 378.70,371.82 381.00,374.20C383.30,376.58 385.80,378.90 388.20,380.80C390.60,382.70 392.60,384.13 395.40,385.60C398.20,387.07 401.73,388.53 405.00,389.60C408.27,390.67 412.05,391.17 415.00,392.00C417.95,392.83 420.03,393.77 422.70,394.60C425.37,395.43 428.28,396.33 431.00,397.00C433.72,397.67 436.33,398.15 439.00,398.60C441.67,399.05 443.80,399.35 447.00,399.70C450.20,400.05 454.12,400.43 458.20,400.70C462.28,400.97 465.51,401.17 471.50,401.30C477.50,401.43 488.62,401.47 494.20,401.50C499.06,401.53 503.99,406.25 505.00,401.50C506.80,393.05 506.80,359.25 505.00,350.80Z" fill="#fec561"/>
<path d="M505.00,356.40C503.76,351.70 499.06,356.52 494.20,356.40C488.62,356.27 479.37,356.00 471.50,355.60C463.63,355.20 454.08,354.45 447.00,354.00C439.92,353.55 433.05,353.17 429.00,352.90C426.16,352.71 424.70,352.62 422.70,352.40C420.70,352.18 419.55,352.03 417.00,351.60C414.05,351.10 409.00,350.03 405.00,349.40C401.00,348.77 396.60,348.07 393.00,347.80C389.40,347.53 385.70,347.50 383.40,347.80C381.36,348.07 380.17,348.80 379.20,349.60C378.23,350.40 377.70,351.30 377.60,352.60C377.50,353.90 378.23,356.20 378.60,357.40C378.95,358.55 379.26,358.72 379.80,359.80C380.60,361.40 382.00,364.80 383.40,367.00C384.80,369.20 386.20,371.00 388.20,373.00C390.20,375.00 392.60,377.10 395.40,379.00C398.20,380.90 401.73,383.00 405.00,384.40C408.27,385.80 412.05,386.50 415.00,387.40C417.95,388.30 420.03,388.95 422.70,389.80C425.37,390.65 428.28,391.75 431.00,392.50C433.72,393.25 436.33,393.82 439.00,394.30C441.67,394.78 443.80,395.00 447.00,395.40C450.20,395.80 454.12,396.43 458.20,396.70C462.28,396.97 465.51,396.90 471.50,397.00C477.50,397.10 488.62,397.25 494.20,397.30C499.06,397.34 503.76,402.00 505.00,397.30C506.80,390.48 506.80,363.22 505.00,356.40Z" fill="#fd9f44"/>
<path d="M505.00,360.70C503.49,356.08 499.06,360.74 494.20,360.70C488.62,360.65 479.37,360.58 471.50,360.40C463.63,360.22 454.08,359.80 447.00,359.60C439.92,359.40 433.05,359.33 429.00,359.20C426.16,359.11 424.70,359.00 422.70,358.80C420.70,358.60 419.57,358.29 417.00,358.00C414.05,357.67 408.30,356.92 405.00,356.80C401.70,356.68 399.27,356.83 397.20,357.30C395.13,357.77 393.70,358.65 392.60,359.60C391.50,360.55 390.73,361.87 390.60,363.00C390.47,364.13 391.02,364.98 391.80,366.40C392.60,367.87 393.80,370.00 395.40,371.80C397.00,373.60 399.00,375.70 401.40,377.20C403.80,378.70 407.53,379.93 409.80,380.80C412.07,381.67 412.85,381.73 415.00,382.40C417.15,383.07 420.03,383.93 422.70,384.80C425.37,385.67 428.28,386.77 431.00,387.60C433.72,388.43 436.33,389.17 439.00,389.80C441.67,390.43 443.80,390.92 447.00,391.40C450.20,391.88 454.12,392.35 458.20,392.70C462.28,393.05 465.51,393.32 471.50,393.50C477.50,393.68 488.62,393.75 494.20,393.80C499.06,393.84 503.49,398.42 505.00,393.80C506.80,388.28 506.80,366.22 505.00,360.70Z" fill="#fc6c33"/>
<path d="M505.00,363.60C503.20,359.15 499.06,363.64 494.20,363.60C488.62,363.55 479.37,363.43 471.50,363.30C463.63,363.17 454.08,362.82 447.00,362.80C439.92,362.78 433.05,363.18 429.00,363.20C426.16,363.21 424.70,362.93 422.70,362.90C420.70,362.87 418.75,362.75 417.00,363.00C415.25,363.25 413.80,363.83 412.20,364.40C410.60,364.97 408.63,365.57 407.40,366.40C406.17,367.23 404.80,368.30 404.80,369.40C404.80,370.50 405.97,371.80 407.40,373.00C408.83,374.20 411.20,375.55 413.40,376.60C415.60,377.65 419.05,378.75 420.60,379.30C421.53,379.63 421.79,379.54 422.70,379.90C424.43,380.58 428.28,382.42 431.00,383.40C433.72,384.38 436.33,385.13 439.00,385.80C441.67,386.47 443.80,386.87 447.00,387.40C450.20,387.93 454.12,388.60 458.20,389.00C462.28,389.40 465.51,389.58 471.50,389.80C477.50,390.02 488.62,390.22 494.20,390.30C499.06,390.37 503.20,394.75 505.00,390.30C506.80,385.85 506.80,368.05 505.00,363.60Z" fill="#ef3323"/>
<path d="M505.00,368.90C503.20,366.40 499.06,368.86 494.20,368.90C488.62,368.95 478.03,369.10 471.50,369.20C464.97,369.30 459.08,369.43 455.00,369.50C451.40,369.56 450.20,369.55 447.00,369.60C443.80,369.65 438.63,369.70 435.80,369.80C433.19,369.89 431.67,369.93 430.00,370.20C428.33,370.47 425.63,370.80 425.80,371.40C425.97,372.00 428.80,372.78 431.00,373.80C433.20,374.82 436.33,376.43 439.00,377.50C441.67,378.57 443.80,379.40 447.00,380.20C450.20,381.00 454.12,381.77 458.20,382.30C462.28,382.83 465.50,383.13 471.50,383.40C477.50,383.67 488.62,383.82 494.20,383.90C499.06,383.97 503.20,386.40 505.00,383.90C506.80,381.40 506.80,371.40 505.00,368.90Z" fill="#cf0c21"/>
<path d="M422.80,364.30L425.25,369.25H420.35Z" fill="#000"/>
<path d="M325.65,423.27V306.47M374.25,423.27V306.47M422.85,423.27V306.47M471.45,423.27V306.47M278.6,401.37H494.45M278.6,364.87H494.45M278.6,328.37H494.45" stroke="#b0b0b0" stroke-opacity="0.8" stroke-width="0.55" stroke-dasharray="1.97 0.85" fill="none"/>
</g>
<rect x="278.6" y="306.47" width="215.84999999999997" height="116.79999999999995" fill="none" stroke="#000" stroke-width="0.7"/>
<path d="M325.65,423.27v2.9M374.25,423.27v2.9M422.85,423.27v2.9M471.45,423.27v2.9M278.6,401.37h-2.9M278.6,364.87h-2.9M278.6,328.37h-2.9" stroke="#000" stroke-width="0.7" fill="none"/>
<rect x="49.35" y="450.5" width="215.35" height="116.79999999999995" fill="#fff6b6"/>
<g clip-path="url(#cg)">
<path d="M40.00,505.00C40.86,500.58 45.50,505.00 50.00,505.00C55.37,505.00 64.03,505.07 72.20,505.00C80.37,504.93 92.53,504.77 99.00,504.60C104.40,504.46 107.40,504.20 111.00,504.00C114.60,503.80 117.00,503.80 120.60,503.40C124.20,503.00 129.53,502.17 132.60,501.60C135.52,501.06 136.87,500.53 139.00,500.00C141.13,499.47 143.73,498.80 145.40,498.40C147.01,498.01 147.39,497.99 149.00,497.60C150.80,497.17 153.80,496.23 156.20,495.80C158.60,495.37 161.27,495.13 163.40,495.00C165.53,494.87 167.20,494.80 169.00,495.00C170.80,495.20 172.53,495.50 174.20,496.20C175.87,496.90 177.70,497.90 179.00,499.20C180.30,500.50 181.30,502.40 182.00,504.00C182.70,505.60 183.10,507.20 183.20,508.80C183.30,510.40 183.00,512.07 182.60,513.60C182.20,515.13 181.73,516.52 180.80,518.00C179.87,519.48 177.97,521.43 177.00,522.50C176.17,523.42 175.95,523.60 175.00,524.40C173.67,525.52 170.67,527.97 169.00,529.20C167.33,530.43 166.33,530.80 165.00,531.80C163.67,532.80 162.33,534.10 161.00,535.20C159.67,536.30 158.33,537.33 157.00,538.40C155.67,539.47 154.33,540.53 153.00,541.60C151.67,542.67 150.17,543.90 149.00,544.80C147.83,545.70 147.44,546.15 146.00,547.00C144.47,547.90 142.23,549.03 139.80,550.20C137.37,551.37 134.60,552.90 131.40,554.00C128.20,555.10 124.00,556.23 120.60,556.80C117.20,557.37 114.60,557.30 111.00,557.40C107.40,557.50 102.33,557.40 99.00,557.40C95.67,557.40 94.60,557.48 91.00,557.40C86.53,557.30 79.03,557.00 72.20,556.80C65.37,556.60 55.37,556.30 50.00,556.20C45.50,556.12 40.86,560.62 40.00,556.20C38.33,547.67 38.33,513.53 40.00,505.00Z" fill="#fee38b"/>
<path d="M40.00,510.00C41.04,505.62 45.50,510.00 50.00,510.00C55.37,510.00 64.03,510.00 72.20,510.00C80.37,510.00 92.53,510.00 99.00,510.00C104.40,510.00 107.40,510.00 111.00,510.00C114.60,510.00 117.00,510.03 120.60,510.00C124.20,509.97 128.87,509.83 132.60,509.80C136.33,509.77 139.93,509.70 143.00,509.80C146.07,509.90 148.60,510.03 151.00,510.40C153.40,510.77 155.70,511.40 157.40,512.00C159.10,512.60 160.18,513.35 161.20,514.00C162.22,514.65 163.50,515.90 163.50,515.90C163.50,515.90 162.95,517.62 162.60,518.50C162.25,519.38 162.07,520.08 161.40,521.20C160.73,522.32 159.60,523.87 158.60,525.20C157.60,526.53 156.60,527.80 155.40,529.20C154.20,530.60 152.73,532.27 151.40,533.60C150.07,534.93 148.87,536.00 147.40,537.20C145.93,538.40 144.33,539.67 142.60,540.80C140.87,541.93 138.93,542.90 137.00,544.00C135.07,545.10 133.00,546.47 131.00,547.40C129.00,548.33 126.73,549.03 125.00,549.60C123.27,550.17 122.63,550.51 120.60,550.80C118.27,551.13 114.60,551.43 111.00,551.60C107.40,551.77 102.33,551.80 99.00,551.80C95.67,551.80 94.60,551.63 91.00,551.60C86.53,551.57 79.03,551.53 72.20,551.60C65.37,551.67 55.37,551.93 50.00,552.00C45.50,552.06 41.04,556.38 40.00,552.00C38.33,545.00 38.33,517.00 40.00,510.00Z" fill="#fec561"/>
<path d="M40.00,513.40C41.23,509.07 45.50,513.37 50.00,513.40C55.37,513.43 64.03,513.50 72.20,513.60C80.37,513.70 92.53,513.87 99.00,514.00C104.40,514.11 107.40,514.27 111.00,514.40C114.60,514.53 117.00,514.60 120.60,514.80C124.20,515.00 129.47,515.23 132.60,515.60C135.70,515.96 137.33,516.40 139.40,517.00C141.47,517.60 143.57,518.47 145.00,519.20C146.43,519.93 147.30,520.55 148.00,521.40C148.70,522.25 149.20,524.30 149.20,524.30C149.20,524.30 148.76,525.73 148.20,526.80C147.63,527.88 146.73,529.53 145.80,530.80C144.87,532.07 143.80,533.20 142.60,534.40C141.40,535.60 140.20,536.80 138.60,538.00C137.00,539.20 134.87,540.60 133.00,541.60C131.13,542.60 129.47,543.23 127.40,544.00C125.33,544.77 123.33,545.60 120.60,546.20C117.87,546.80 114.60,547.23 111.00,547.60C107.40,547.97 102.33,548.33 99.00,548.40C95.67,548.47 94.60,548.00 91.00,548.00C86.53,548.00 79.03,548.30 72.20,548.40C65.37,548.50 55.37,548.57 50.00,548.60C45.50,548.63 41.23,552.93 40.00,548.60C38.33,542.73 38.33,519.27 40.00,513.40Z" fill="#fd9f44"/>
<path d="M40.00,516.00C41.42,511.73 45.50,515.94 50.00,516.00C55.37,516.07 64.03,516.17 72.20,516.40C80.37,516.63 92.53,517.10 99.00,517.40C104.41,517.65 107.40,517.97 111.00,518.20C114.60,518.43 118.27,518.60 120.60,518.80C122.59,518.97 123.20,519.07 125.00,519.40C126.80,519.73 129.53,520.30 131.40,520.80C133.27,521.30 134.87,521.80 136.20,522.40C137.53,523.00 138.73,523.80 139.40,524.40C140.00,524.94 140.20,525.33 140.20,526.00C140.20,526.67 139.91,527.38 139.40,528.40C138.87,529.47 138.07,531.07 137.00,532.40C135.93,533.73 134.33,535.27 133.00,536.40C131.67,537.53 130.33,538.40 129.00,539.20C127.67,540.00 126.40,540.60 125.00,541.20C123.60,541.80 122.65,542.33 120.60,542.80C118.27,543.33 114.60,543.97 111.00,544.40C107.40,544.83 102.33,545.23 99.00,545.40C95.67,545.57 94.60,545.35 91.00,545.40C86.53,545.47 79.03,545.70 72.20,545.80C65.37,545.90 55.37,545.97 50.00,546.00C45.50,546.03 41.42,550.27 40.00,546.00C38.33,541.00 38.33,521.00 40.00,516.00Z" fill="#fc6c33"/>
<path d="M40.00,518.60C41.67,514.43 45.50,518.49 50.00,518.60C55.37,518.73 64.03,519.03 72.20,519.40C80.37,519.77 92.53,520.47 99.00,520.80C104.40,521.08 107.40,521.13 111.00,521.40C114.60,521.67 118.27,522.00 120.60,522.40C122.65,522.75 123.73,523.27 125.00,523.80C126.27,524.33 127.33,524.90 128.20,525.60C129.07,526.30 129.73,527.27 130.20,528.00C130.67,528.73 131.00,529.20 131.00,530.00C131.00,530.80 130.80,531.87 130.20,532.80C129.60,533.73 128.27,534.93 127.40,535.60C126.53,536.27 126.08,536.26 125.00,536.80C123.87,537.37 122.71,538.34 120.60,539.00C118.27,539.73 114.60,540.63 111.00,541.20C107.40,541.77 102.33,542.17 99.00,542.40C95.67,542.63 94.60,542.49 91.00,542.60C86.53,542.73 79.03,543.03 72.20,543.20C65.37,543.37 55.37,543.53 50.00,543.60C45.50,543.66 41.67,547.77 40.00,543.60C38.33,539.43 38.33,522.77 40.00,518.60Z" fill="#ef3323"/>
<path d="M40.00,521.80C41.67,518.60 45.50,521.74 50.00,521.80C55.37,521.87 64.03,521.80 72.20,522.20C80.37,522.60 92.53,523.67 99.00,524.20C104.41,524.65 108.00,524.97 111.00,525.40C113.74,525.80 115.42,526.20 117.00,526.80C118.58,527.40 119.60,528.20 120.50,529.00C121.40,529.80 122.58,530.67 122.40,531.60C122.22,532.53 121.10,533.73 119.40,534.60C117.50,535.57 114.40,536.70 111.00,537.40C107.60,538.10 102.33,538.40 99.00,538.80C95.67,539.20 94.62,539.56 91.00,539.80C86.53,540.10 79.03,540.40 72.20,540.60C65.37,540.80 55.37,540.93 50.00,541.00C45.50,541.06 41.67,544.20 40.00,541.00C38.33,537.80 38.33,525.00 40.00,521.80Z" fill="#cf0c21"/>
<path d="M40.00,525.40C41.67,523.30 45.50,525.34 50.00,525.40C55.37,525.47 65.37,525.47 72.20,525.80C79.03,526.13 86.53,526.97 91.00,527.40C94.61,527.75 96.98,528.13 99.00,528.40C100.85,528.64 103.10,529.00 103.10,529.00C103.10,529.00 102.80,533.30 102.80,533.30C102.80,533.30 100.74,533.99 99.00,534.30C97.03,534.65 94.62,535.04 91.00,535.40C86.53,535.85 79.03,536.57 72.20,537.00C65.37,537.43 55.37,537.83 50.00,538.00C45.50,538.14 41.67,540.10 40.00,538.00C38.33,535.90 38.33,527.50 40.00,525.40Z" fill="#9d0026"/>
<path d="M120.60,521.90L123.05,526.85H118.15Z" fill="#000"/>
<path d="M72.30,567.3V450.5M120.68,567.3V450.5M169.06,567.3V450.5M217.44,567.3V450.5M49.35,545.40H264.7M49.35,508.90H264.7M49.35,472.40H264.7" stroke="#b0b0b0" stroke-opacity="0.8" stroke-width="0.55" stroke-dasharray="1.97 0.85" fill="none"/>
</g>
<rect x="49.35" y="450.5" width="215.35" height="116.79999999999995" fill="none" stroke="#000" stroke-width="0.7"/>
<path d="M72.30,567.3v2.9M120.68,567.3v2.9M169.06,567.3v2.9M217.44,567.3v2.9M49.35,545.40h-2.9M49.35,508.90h-2.9M49.35,472.40h-2.9" stroke="#000" stroke-width="0.7" fill="none"/>
<rect x="278.6" y="450.5" width="215.84999999999997" height="116.79999999999995" fill="#fff6b6"/>
<g clip-path="url(#ch)">
<path d="M505.00,514.40C503.72,509.71 499.06,514.59 494.20,514.40C488.62,514.18 479.37,513.68 471.50,513.10C463.63,512.52 453.08,511.52 447.00,510.90C441.59,510.35 438.67,509.82 435.00,509.40C431.33,508.98 427.87,508.70 425.00,508.40C422.13,508.10 420.60,507.93 417.80,507.60C415.00,507.27 411.40,506.87 408.20,506.40C405.00,505.93 401.80,505.20 398.60,504.80C395.40,504.40 392.00,504.03 389.00,504.00C386.00,503.97 383.00,504.20 380.60,504.60C378.20,505.00 376.20,505.70 374.60,506.40C373.00,507.10 371.80,507.80 371.00,508.80C370.20,509.80 369.90,511.30 369.80,512.40C369.70,513.50 369.91,514.12 370.40,515.40C370.90,516.70 372.03,518.93 372.80,520.20C373.57,521.47 373.95,521.79 375.00,523.00C376.37,524.57 379.00,527.67 381.00,529.60C383.00,531.53 384.80,532.97 387.00,534.60C389.20,536.23 391.60,537.87 394.20,539.40C396.80,540.93 399.80,542.57 402.60,543.80C405.40,545.03 407.60,545.80 411.00,546.80C414.40,547.80 419.00,549.03 423.00,549.80C427.00,550.57 431.00,551.00 435.00,551.40C439.00,551.80 441.60,551.87 447.00,552.20C453.08,552.57 463.63,553.28 471.50,553.60C479.37,553.92 488.62,554.02 494.20,554.10C499.06,554.17 503.72,558.79 505.00,554.10C506.80,547.48 506.80,521.02 505.00,514.40Z" fill="#fee38b"/>
<path d="M505.00,520.80C503.25,516.27 499.06,520.92 494.20,520.80C488.62,520.67 479.37,520.32 471.50,520.00C463.63,519.68 453.08,519.23 447.00,518.90C441.59,518.60 438.67,518.28 435.00,518.00C431.33,517.72 428.67,517.53 425.00,517.20C421.33,516.87 416.60,516.30 413.00,516.00C409.40,515.70 406.40,515.40 403.40,515.40C400.40,515.40 397.20,515.60 395.00,516.00C392.80,516.40 391.37,517.03 390.20,517.80C389.03,518.57 388.12,519.53 388.00,520.60C387.88,521.67 388.57,522.80 389.50,524.20C390.43,525.60 392.08,527.57 393.60,529.00C395.12,530.43 396.77,531.57 398.60,532.80C400.43,534.03 402.53,535.27 404.60,536.40C406.67,537.53 407.97,538.50 411.00,539.60C414.07,540.72 419.00,542.17 423.00,543.10C427.00,544.03 431.00,544.65 435.00,545.20C439.00,545.75 441.59,545.98 447.00,546.40C453.08,546.87 463.63,547.60 471.50,548.00C479.37,548.40 488.62,548.67 494.20,548.80C499.06,548.92 503.25,553.33 505.00,548.80C506.80,544.13 506.80,525.47 505.00,520.80Z" fill="#fec561"/>
<path d="M505.00,524.80C503.20,521.60 499.06,524.87 494.20,524.80C488.62,524.72 479.37,524.48 471.50,524.30C463.63,524.12 453.08,524.02 447.00,523.70C441.58,523.42 439.00,522.73 435.00,522.40C431.00,522.07 426.40,521.77 423.00,521.70C419.60,521.63 417.23,521.78 414.60,522.00C411.97,522.22 408.83,522.43 407.20,523.00C405.76,523.50 404.90,524.55 404.80,525.40C404.70,526.25 405.52,527.12 406.60,528.10C407.70,529.10 409.50,530.35 411.40,531.40C413.30,532.45 416.07,533.60 418.00,534.40C419.93,535.20 420.69,535.58 423.00,536.20C425.83,536.97 431.00,538.15 435.00,539.00C439.00,539.85 441.54,540.67 447.00,541.30C453.08,542.00 463.63,542.75 471.50,543.20C479.37,543.65 488.62,543.87 494.20,544.00C499.06,544.12 503.20,547.20 505.00,544.00C506.80,540.80 506.80,528.00 505.00,524.80Z" fill="#fd9f44"/>
<path d="M505.00,528.00C503.20,526.00 499.06,528.00 494.20,528.00C488.62,528.00 479.37,527.92 471.50,528.00C463.63,528.08 452.15,528.42 447.00,528.50C444.12,528.55 442.60,528.37 440.60,528.50C438.60,528.63 435.27,528.72 435.00,529.30C434.73,529.88 437.08,530.99 439.00,532.00C441.00,533.05 443.80,534.62 447.00,535.60C450.20,536.58 454.12,537.30 458.20,537.90C462.28,538.50 465.50,538.85 471.50,539.20C477.50,539.55 488.62,539.87 494.20,540.00C499.06,540.12 503.20,542.00 505.00,540.00C506.80,538.00 506.80,530.00 505.00,528.00Z" fill="#fc6c33"/>
<path d="M422.80,521.80L425.25,526.75H420.35Z" fill="#000"/>
<path d="M325.65,567.3V450.5M374.25,567.3V450.5M422.85,567.3V450.5M471.45,567.3V450.5M278.6,545.40H494.45M278.6,508.90H494.45M278.6,472.40H494.45" stroke="#b0b0b0" stroke-opacity="0.8" stroke-width="0.55" stroke-dasharray="1.97 0.85" fill="none"/>
</g>
<rect x="278.6" y="450.5" width="215.84999999999997" height="116.79999999999995" fill="none" stroke="#000" stroke-width="0.7"/>
<path d="M325.65,567.3v2.9M374.25,567.3v2.9M422.85,567.3v2.9M471.45,567.3v2.9M278.6,545.40h-2.9M278.6,508.90h-2.9M278.6,472.40h-2.9" stroke="#000" stroke-width="0.7" fill="none"/>
<rect x="301.50" y="606.5" width="21.57" height="24.899999999999977" fill="#fff6b6"/>
<rect x="322.77" y="606.5" width="21.57" height="24.899999999999977" fill="#fee38b"/>
<rect x="344.05" y="606.5" width="21.57" height="24.899999999999977" fill="#fec561"/>
<rect x="365.32" y="606.5" width="21.57" height="24.899999999999977" fill="#fd9f44"/>
<rect x="386.60" y="606.5" width="21.57" height="24.899999999999977" fill="#fc6c33"/>
<rect x="407.88" y="606.5" width="21.57" height="24.899999999999977" fill="#ef3323"/>
<rect x="429.15" y="606.5" width="21.57" height="24.899999999999977" fill="#cf0c21"/>
<rect x="450.42" y="606.5" width="21.57" height="24.899999999999977" fill="#9d0026"/>
<path d="M471.7,606.5L480.3,618.95L471.7,631.4Z" fill="#800026"/>
<path d="M301.5,606.5H471.7L480.3,618.95L471.7,631.4H301.5Z" fill="none" stroke="#000" stroke-width="0.7"/>
<path d="M301.50,631.4v2.4M322.77,631.4v2.4M344.05,631.4v2.4M365.32,631.4v2.4M386.60,631.4v2.4M407.88,631.4v2.4M429.15,631.4v2.4M450.42,631.4v2.4M471.70,631.4v2.4" stroke="#000" stroke-width="0.7" fill="none"/>
</svg>
<div class="t " style="left:-43.38px;width:400px;text-align:center;transform-origin:50% 50%;top:5.22px;font-size:11.2px;transform:scaleX(1.0207);">(a) UKESM1; HiLLA-15km; Dec-Feb</div>
<div class="t " style="left:-355.95px;width:400px;text-align:right;transform-origin:100% 50%;top:108.42px;font-size:11.2px;transform:scaleX(1.087);">10</div>
<div class="t " style="left:-355.95px;width:400px;text-align:right;transform-origin:100% 50%;top:71.92px;font-size:11.2px;transform:scaleX(1.087);">15</div>
<div class="t " style="left:-355.95px;width:400px;text-align:right;transform-origin:100% 50%;top:35.42px;font-size:11.2px;transform:scaleX(1.087);">20</div>
<div class="t " style="left:186.12px;width:400px;text-align:center;transform-origin:50% 50%;top:5.22px;font-size:11.2px;transform:scaleX(1.0165);">(b) UKESM1; HiLLA-15km; Jun-Aug</div>
<div class="t " style="left:-43.38px;width:400px;text-align:center;transform-origin:50% 50%;top:149.25px;font-size:11.2px;transform:scaleX(1.0206);">(c) UKESM1; HiLLA-13km; Dec-Feb</div>
<div class="t " style="left:-355.95px;width:400px;text-align:right;transform-origin:100% 50%;top:252.45px;font-size:11.2px;transform:scaleX(1.087);">10</div>
<div class="t " style="left:-355.95px;width:400px;text-align:right;transform-origin:100% 50%;top:215.95px;font-size:11.2px;transform:scaleX(1.087);">15</div>
<div class="t " style="left:-355.95px;width:400px;text-align:right;transform-origin:100% 50%;top:179.45px;font-size:11.2px;transform:scaleX(1.087);">20</div>
<div class="t " style="left:186.12px;width:400px;text-align:center;transform-origin:50% 50%;top:149.25px;font-size:11.2px;transform:scaleX(1.0165);">(d) UKESM1; HiLLA-13km; Jun-Aug</div>
<div class="t " style="left:-43.38px;width:400px;text-align:center;transform-origin:50% 50%;top:293.29px;font-size:11.2px;transform:scaleX(1.0069);">(e) CESM2-WACCM; HiLLA-15km; Dec-Feb</div>
<div class="t " style="left:-355.95px;width:400px;text-align:right;transform-origin:100% 50%;top:396.49px;font-size:11.2px;transform:scaleX(1.087);">10</div>
<div class="t " style="left:-355.95px;width:400px;text-align:right;transform-origin:100% 50%;top:359.99px;font-size:11.2px;transform:scaleX(1.087);">15</div>
<div class="t " style="left:-355.95px;width:400px;text-align:right;transform-origin:100% 50%;top:323.49px;font-size:11.2px;transform:scaleX(1.087);">20</div>
<div class="t " style="left:186.12px;width:400px;text-align:center;transform-origin:50% 50%;top:293.29px;font-size:11.2px;transform:scaleX(1.0037);">(f) CESM2-WACCM; HiLLA-15km; Jun-Aug</div>
<div class="t " style="left:-43.38px;width:400px;text-align:center;transform-origin:50% 50%;top:437.32px;font-size:11.2px;transform:scaleX(1.0078);">(g) CESM2-WACCM; HiLLA-13km; Dec-Feb</div>
<div class="t " style="left:-355.95px;width:400px;text-align:right;transform-origin:100% 50%;top:540.52px;font-size:11.2px;transform:scaleX(1.087);">10</div>
<div class="t " style="left:-355.95px;width:400px;text-align:right;transform-origin:100% 50%;top:504.02px;font-size:11.2px;transform:scaleX(1.087);">15</div>
<div class="t " style="left:-355.95px;width:400px;text-align:right;transform-origin:100% 50%;top:467.52px;font-size:11.2px;transform:scaleX(1.087);">20</div>
<div class="t " style="left:186.12px;width:400px;text-align:center;transform-origin:50% 50%;top:437.32px;font-size:11.2px;transform:scaleX(1.0031);">(h) CESM2-WACCM; HiLLA-13km; Jun-Aug</div>
<div class="t " style="left:-128.00px;width:400px;text-align:center;transform-origin:50% 50%;top:571.52px;font-size:11.2px;transform:scaleX(1.087);"><span class="mn">−</span>80</div>
<div class="t " style="left:-79.62px;width:400px;text-align:center;transform-origin:50% 50%;top:571.52px;font-size:11.2px;transform:scaleX(1.087);"><span class="mn">−</span>60</div>
<div class="t " style="left:-31.24px;width:400px;text-align:center;transform-origin:50% 50%;top:571.52px;font-size:11.2px;transform:scaleX(1.087);"><span class="mn">−</span>40</div>
<div class="t " style="left:17.14px;width:400px;text-align:center;transform-origin:50% 50%;top:571.52px;font-size:11.2px;transform:scaleX(1.087);"><span class="mn">−</span>20</div>
<div class="t " style="left:125.65px;width:400px;text-align:center;transform-origin:50% 50%;top:571.52px;font-size:11.2px;transform:scaleX(1.087);">20</div>
<div class="t " style="left:174.25px;width:400px;text-align:center;transform-origin:50% 50%;top:571.52px;font-size:11.2px;transform:scaleX(1.087);">40</div>
<div class="t " style="left:222.85px;width:400px;text-align:center;transform-origin:50% 50%;top:571.52px;font-size:11.2px;transform:scaleX(1.087);">60</div>
<div class="t " style="left:271.45px;width:400px;text-align:center;transform-origin:50% 50%;top:571.52px;font-size:11.2px;transform:scaleX(1.087);">80</div>
<div class="t " style="left:101.50px;width:400px;text-align:center;transform-origin:50% 50%;top:635.78px;font-size:9.0px;transform:scaleX(1.09);">0</div>
<div class="t " style="left:122.77px;width:400px;text-align:center;transform-origin:50% 50%;top:635.78px;font-size:9.0px;transform:scaleX(1.09);">1</div>
<div class="t " style="left:144.05px;width:400px;text-align:center;transform-origin:50% 50%;top:635.78px;font-size:9.0px;transform:scaleX(1.09);">2</div>
<div class="t " style="left:165.32px;width:400px;text-align:center;transform-origin:50% 50%;top:635.78px;font-size:9.0px;transform:scaleX(1.09);">3</div>
<div class="t " style="left:186.60px;width:400px;text-align:center;transform-origin:50% 50%;top:635.78px;font-size:9.0px;transform:scaleX(1.09);">4</div>
<div class="t " style="left:207.88px;width:400px;text-align:center;transform-origin:50% 50%;top:635.78px;font-size:9.0px;transform:scaleX(1.09);">5</div>
<div class="t " style="left:229.15px;width:400px;text-align:center;transform-origin:50% 50%;top:635.78px;font-size:9.0px;transform:scaleX(1.09);">6</div>
<div class="t " style="left:250.42px;width:400px;text-align:center;transform-origin:50% 50%;top:635.78px;font-size:9.0px;transform:scaleX(1.09);">7</div>
<div class="t " style="left:271.70px;width:400px;text-align:center;transform-origin:50% 50%;top:635.78px;font-size:9.0px;transform:scaleX(1.09);">8</div>
<div class="t " style="left:50.40px;width:400px;text-align:center;transform-origin:50% 50%;top:598.97px;font-size:13.5px;transform:scaleX(1.106);">Latitude (°)</div>
<div class="t " style="left:185.80px;width:400px;text-align:center;transform-origin:50% 50%;top:647.32px;font-size:11.2px;transform:scaleX(1.02);">H<span class="sub">2</span>SO<span class="sub">4</span> burden</div>
<div class="t " style="left:185.80px;width:400px;text-align:center;transform-origin:50% 50%;top:659.42px;font-size:11.2px;transform:scaleX(1.119);">(kg/kg air)</div>
<div class="t " style="left:71.50px;width:400px;text-align:right;transform-origin:100% 50%;top:646.52px;font-size:11.2px;transform:scaleX(1.09);">1e<span class="mn">−</span>8</div>
<div class="t yl" style="font-size:13.5px;">Altitude (km)</div>
</div>
</body></html>
